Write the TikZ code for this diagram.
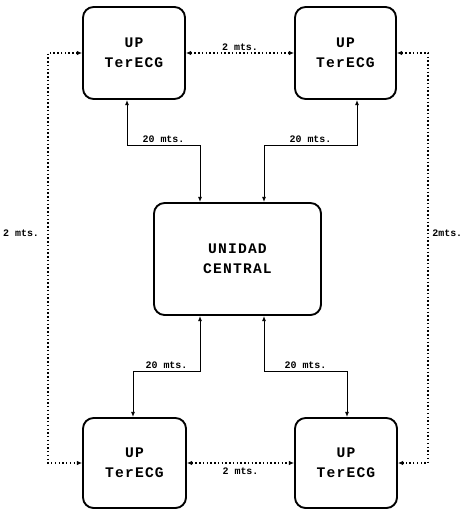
\documentclass[tikz,border=0pt]{standalone}
\usepackage{fontspec}
\newfontfamily\dotfont{Liberation Mono}[LetterSpace=8]
\newfontfamily\tagfont{Liberation Mono}
\usetikzlibrary{arrows.meta,calc,positioning}

\tikzset{
  unit/.style={draw, line width=1.6pt, rounded corners=9pt, align=center,
    font=\dotfont\bfseries\fontsize{12.5}{17}\selectfont, inner sep=0pt},
  wire/.style={line width=0.8pt, {Latex[length=4.5pt,width=3.5pt]}-{Latex[length=4.5pt,width=3.5pt]}},
  dots/.style={line width=0.9pt, dash pattern=on 1.2pt off 2pt,
    {Latex[length=4.5pt,width=4pt]}-{Latex[length=4.5pt,width=4pt]}},
  tag/.style={font=\tagfont\bfseries\fontsize{8.5}{9}\selectfont, inner sep=1.5pt}
}

\begin{document}
\begin{tikzpicture}[x=0.03cm, y=-0.03cm]
  \useasboundingbox (0,0) rectangle (464,510);
  % terminales y unidad central
  \node[unit, minimum width=3.06cm, minimum height=2.76cm] (tl) at (134,53) {UP\\TerECG};
  \node[unit, minimum width=3.03cm, minimum height=2.76cm] (tr) at (345.5,53) {UP\\TerECG};
  \node[unit, minimum width=5.01cm, minimum height=3.36cm] (uc) at (237.5,259) {UNIDAD\\CENTRAL};
  \node[unit, minimum width=3.09cm, minimum height=2.7cm] (bl) at (134.5,463) {UP\\TerECG};
  \node[unit, minimum width=3.06cm, minimum height=2.7cm] (br) at (346,463) {UP\\TerECG};

  % cables de 20 m
  \coordinate (k1) at (200,145);
  \coordinate (k2) at (264,145);
  \coordinate (k3) at (200,371);
  \coordinate (k4) at (264,371);
  \draw[wire] ($(tl.south)+(-7,0)$) |- node[tag, pos=0.75, above] {20 mts.} (k1) -- (k1 |- uc.north);
  \draw[wire] ($(tr.south)+(11.5,0)$) |- node[tag, pos=0.75, above] {20 mts.} (k2) -- (k2 |- uc.north);
  \draw[wire] (k3 |- uc.south) -- (k3) -| node[tag, pos=0.25, above] {20 mts.} ($(bl.north)+(-1.5,0)$);
  \draw[wire] (k4 |- uc.south) -- (k4) -| node[tag, pos=0.25, above] {20 mts.} ($(br.north)+(1,0)$);

  % enlaces de 2 m
  \coordinate (ol) at (48,259);
  \coordinate (or) at (428,259);
  \draw[dots] (tl.east) -- node[tag, above] {2 mts.} (tr.west);
  \draw[dots] (bl.east) -- node[tag, below=2pt] {2 mts.} (br.west);
  \draw[dots] (tl.west) -| (ol) |- (bl.west);
  \draw[dots] (tr.east) -| (or) |- (br.east);
  \node[tag, left=6pt] (l2) at (48,233) {2 mts.};
  \node[tag, right=2pt] (r2) at (428,233) {2mts.};
\end{tikzpicture}
\end{document}
